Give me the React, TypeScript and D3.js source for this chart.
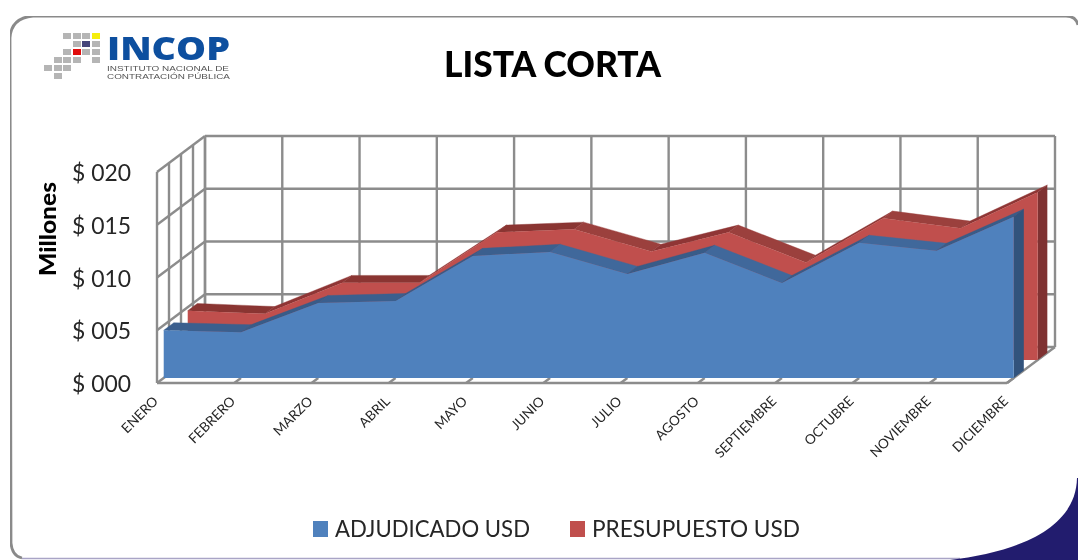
import React from "react";
import * as d3 from "d3";

const months = ["ENERO","FEBRERO","MARZO","ABRIL","MAYO","JUNIO","JULIO","AGOSTO","SEPTIEMBRE","OCTUBRE","NOVIEMBRE","DICIEMBRE"];
const adjudicado = [4.52,4.33,7.1,7.29,11.57,11.95,9.86,11.86,9.0,12.81,12.05,15.29];
const presupuesto = [4.67,4.38,7.33,7.33,12.1,12.38,10.29,12.1,9.24,13.43,12.48,15.9];
const yTicks = [0,5,10,15,20];
const yTickLabels = ["$ 000","$ 005","$ 010","$ 015","$ 020"];
const logoCells: [number,number,string][] = [
  [63,33,"#b5b5b5"],[73,33,"#b5b5b5"],[82,33,"#b5b5b5"],[92,33,"#f5ee10"],
  [73,41,"#b5b5b5"],[82,41,"#45447a"],[92,41,"#b5b5b5"],
  [63,49,"#b5b5b5"],[73,49,"#e01010"],[82,49,"#b5b5b5"],[92,49,"#b5b5b5"],
  [54,57,"#b5b5b5"],[63,57,"#b5b5b5"],[73,57,"#b5b5b5"],[92,57,"#b5b5b5"],
  [44,65,"#b5b5b5"],[54,65,"#b5b5b5"],[63,65,"#b5b5b5"],
  [54,73,"#b5b5b5"],
];

const FONT = "Lato, 'Open Sans', sans-serif";
const DX = 48, DY = -36; // full floor depth offset
const x = d3.scalePoint<string>().domain(months).range([157, 1007]);
const y = d3.scaleLinear().domain([0, 20]).range([383, 172]);
const gridDepths = [0, 0.25, 0.5, 0.75, 1];
const px = (m: string, d: number) => x(m)! + DX * d;
const py = (v: number, d: number) => y(v) + DY * d;
const poly = (p: [number, number][]) => p.map(q => q.join(",")).join(" ");

type S = { values: number[]; front: number; back: number; main: string; side: string; flat: string; fall: string; rise: string };
const series: S[] = [
  { values: presupuesto, front: 0.64, back: 0.84, main: "#c0504d", side: "#7f3130", flat: "#8a3432", fall: "#9b3f3c", rise: "#8f3634" },
  { values: adjudicado, front: 0.14, back: 0.35, main: "#4f81bd", side: "#31527c", flat: "#3b5f8e", fall: "#41689b", rise: "#385b88" },
];

function Series({ s }: { s: S }) {
  const data = months.map((m, i) => ({ m, v: s.values[i] }));
  const front = d3.area<{ m: string; v: number }>()
    .x(d => px(d.m, s.front))
    .y0(() => py(0, s.front))
    .y1(d => py(d.v, s.front));
  const last = data[data.length - 1];
  return (
    <g>
      {data.slice(0, -1).map((a, i) => {
        const b = data[i + 1];
        const dv = b.v - a.v;
        const fill = Math.abs(dv) < 0.5 ? s.flat : dv < 0 ? s.fall : s.rise;
        return (
          <polygon key={a.m} fill={fill} stroke={fill} strokeWidth={0.4} points={poly([
            [px(a.m, s.front), py(a.v, s.front)],
            [px(b.m, s.front), py(b.v, s.front)],
            [px(b.m, s.back), py(b.v, s.back)],
            [px(a.m, s.back), py(a.v, s.back)],
          ])} />
        );
      })}
      <polygon fill={s.side} points={poly([
        [px(last.m, s.front), py(last.v, s.front)],
        [px(last.m, s.back), py(last.v, s.back)],
        [px(last.m, s.back), py(0, s.back)],
        [px(last.m, s.front), py(0, s.front)],
      ])} />
      <path d={front(data)!} fill={s.main} />
    </g>
  );
}

export default function App() {
  const grid = "#8c8c8c";
  const m0 = months[0], mN = months[months.length - 1];
  return (
    <svg width={1078} height={560} style={{ position: "absolute", left: 0, top: 0, display: "block", background: "#fff" }}>
      <defs>
        <filter id="soft" x="0" y="0" width="100%" height="100%"><feGaussianBlur stdDeviation="0.6" /></filter>
        <filter id="soft2" x="-5%" y="-5%" width="110%" height="110%"><feGaussianBlur stdDeviation="1.2" /></filter>
      </defs>
      <g filter="url(#soft)">
        {/* card */}
        <path d="M 1078 25 Q 1076 16 1066 16 L 33 16 Q 11 18 10 38 L 11 543 Q 12 556 22 558" fill="none" stroke="#8a8a8a" strokeWidth={2.8} />
        <path d="M 13.5 36 L 13.5 545" fill="none" stroke="#bdbdbd" strokeWidth={3.5} filter="url(#soft2)" />
        <path d="M 22 558.5 L 960 558.5" stroke="#a9a4c6" strokeWidth={1.5} />
        <path d="M 950 560 C 1010 553 1076 532 1077 478 L 1078 478 L 1078 560 Z" fill="#241c6e" />

        {/* logo */}
        {logoCells.map((c, i) => <rect key={i} x={c[0]} y={c[1]} width={8} height={6} fill={c[2]} />)}
        <text x={107} y={60} fontFamily="'Open Sans', sans-serif" fontWeight={800} fontSize={32} fill="#0f4f9f" textLength={123} lengthAdjust="spacingAndGlyphs">INCOP</text>
        <text x={107} y={71} fontFamily="'Liberation Sans', sans-serif" fontSize={8} fill="#555" textLength={122} lengthAdjust="spacingAndGlyphs">INSTITUTO NACIONAL DE</text>
        <text x={107} y={79} fontFamily="'Liberation Sans', sans-serif" fontSize={8} fill="#555" textLength={123} lengthAdjust="spacingAndGlyphs">CONTRATACIÓN PÚBLICA</text>

        {/* title */}
        <text x={444} y={77} fontFamily={FONT} fontWeight={900} fontSize={36} fill="#000" textLength={217} lengthAdjust="spacingAndGlyphs">LISTA CORTA</text>

        {/* walls and floor */}
        <g stroke={grid} strokeWidth={2.4} fill="none">
          {yTicks.map(t => (
            <g key={t}>
              <line x1={px(m0, 0)} y1={py(t, 0)} x2={px(m0, 1)} y2={py(t, 1)} />
              <line x1={px(m0, 1)} y1={py(t, 1)} x2={px(mN, 1)} y2={py(t, 1)} />
            </g>
          ))}
          {gridDepths.map(d => (
            <line key={d} x1={px(m0, d)} y1={py(0, d)} x2={px(m0, d)} y2={py(20, d)} />
          ))}
          {months.map((m, i) => (
            <g key={m}>
              <line x1={px(m, 1)} y1={py(0, 1)} x2={px(m, 1)} y2={py(20, 1)} />
              {i > 0 && <line x1={px(m, 0)} y1={py(0, 0)} x2={px(m, 0.14)} y2={py(0, 0.14)} />}
            </g>
          ))}
          <line x1={px(m0, 0)} y1={py(0, 0)} x2={px(mN, 0)} y2={py(0, 0)} />
          <line x1={px(mN, 0)} y1={py(0, 0)} x2={px(mN, 1)} y2={py(0, 1)} />
        </g>

        {/* series */}
        {series.map((s, i) => <Series key={i} s={s} />)}

        {/* y axis */}
        {yTicks.map((t, i) => (
          <text key={t} x={72} y={y(t) + 9} fontFamily={FONT} fontSize={23.5} fill="#262626" textLength={59} lengthAdjust="spacingAndGlyphs">{yTickLabels[i]}</text>
        ))}
        <text transform="translate(56,229) rotate(-90)" textAnchor="middle" fontFamily={FONT} fontWeight={900} fontSize={22} fill="#000" textLength={94} lengthAdjust="spacingAndGlyphs">Millones</text>

        {/* x axis */}
        {months.map(m => (
          <text key={m} transform={`translate(${x(m)! + 2},${402}) rotate(-45)`} textAnchor="end" fontFamily={FONT} fontSize={13.5} fill="#262626">{m}</text>
        ))}

        {/* legend */}
        <rect x={313} y={521} width={15} height={16} fill="#4f81bd" />
        <text x={335} y={537} fontFamily={FONT} fontSize={22.5} fill="#262626" textLength={195} lengthAdjust="spacingAndGlyphs">ADJUDICADO USD</text>
        <rect x={570} y={521} width={15} height={16} fill="#c0504d" />
        <text x={592} y={537} fontFamily={FONT} fontSize={22.5} fill="#262626" textLength={208} lengthAdjust="spacingAndGlyphs">PRESUPUESTO USD</text>
      </g>
    </svg>
  );
}
